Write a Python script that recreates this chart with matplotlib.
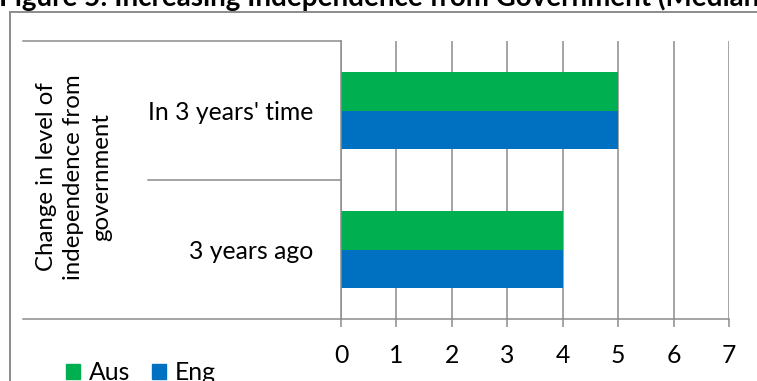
import matplotlib
matplotlib.use("Agg")
import matplotlib.pyplot as plt
from matplotlib.lines import Line2D
from matplotlib.patches import Rectangle, Patch

plt.rcParams['font.family'] = ['Lato', 'DejaVu Sans']

categories = ["3 years ago", "In 3 years' time"]
aus = [4, 5]
eng = [4, 5]
xticks = [0, 1, 2, 3, 4, 5, 6, 7]
title = "Figure 5: Increasing Independence from Government (Median)"
ylabel = "Change in level of\nindependence from\ngovernment"

W, H = 757, 381
GREY = "#8c8c8c"
GREEN = "#00b050"
BLUE = "#0070c0"
FS = 17.8

fig = plt.figure(figsize=(W / 100, H / 100), dpi=100)

def fx(px):
    return px / W

def fy(py):
    return 1 - py / H

ax = fig.add_axes([fx(341), fy(319), fx(729) - fx(341), fy(41) - fy(319)])

h = 0.28
pos = list(range(len(categories)))
ax.barh([p + h / 2 for p in pos], aus, height=h, color=GREEN, label="Aus")
ax.barh([p - h / 2 for p in pos], eng, height=h, color=BLUE, label="Eng")

ax.set_xlim(0, 7)
ax.set_ylim(-0.5, 1.5)
ax.set_xticks(xticks)
ax.set_yticks(pos)
ax.set_yticklabels(categories)
ax.grid(axis="x", color=GREY, linewidth=1.1)
ax.set_axisbelow(True)
for s in ["top", "right", "bottom"]:
    ax.spines[s].set_visible(False)
ax.spines["left"].set_color(GREY)
ax.spines["left"].set_linewidth(1.1)
ax.tick_params(axis="x", length=5.8, width=1.1, color=GREY, pad=12, labelsize=FS)
ax.tick_params(axis="y", length=0, pad=20, labelsize=FS)

# frame lines of the category area
lw = 1.1
fig.add_artist(Line2D([fx(23), fx(729)], [fy(319), fy(319)], color=GREY, lw=lw))
fig.add_artist(Line2D([fx(23), fx(341)], [fy(41), fy(41)], color=GREY, lw=lw))
fig.add_artist(Line2D([fx(148), fx(341)], [fy(180), fy(180)], color=GREY, lw=lw))

# outer chart border
fig.add_artist(Rectangle((fx(10), fy(400)), fx(800), fy(12) - fy(400),
                         fill=False, edgecolor=GREY, lw=1.4))

fig.text(fx(74), fy(177), ylabel, rotation=90, ha="center", va="center",
         multialignment="center", fontsize=17.3, linespacing=1.38)

fig.text(fx(-1), fy(6), title, fontsize=20, weight="bold", ha="left", va="baseline")

handles = [Patch(color=GREEN), Patch(color=BLUE)]
fig.legend(handles, ["Aus", "Eng"], loc="upper left", bbox_to_anchor=(fx(59), fy(354)),
           ncol=2, frameon=False, fontsize=FS, handlelength=0.55, handleheight=0.55,
           handletextpad=0.35, columnspacing=0.9, borderaxespad=0, borderpad=0.3)

fig.savefig("out.png", dpi=100)
